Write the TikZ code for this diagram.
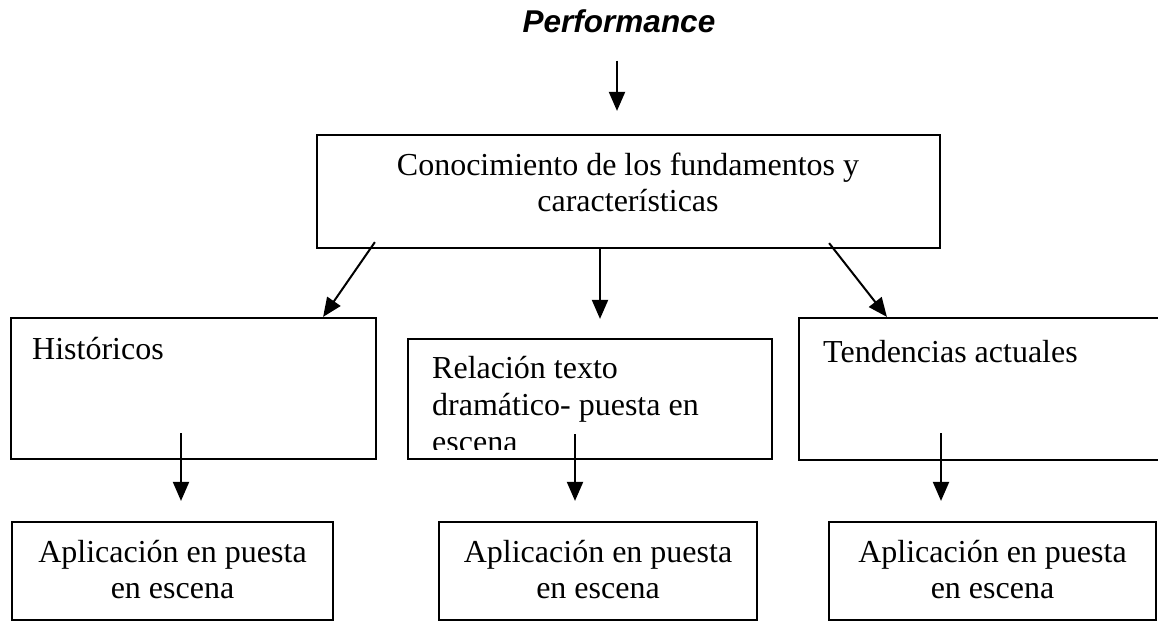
\documentclass[tikz,border=0pt]{standalone}
\usepackage{fontspec}
\setmainfont{Liberation Serif}
\setsansfont{Liberation Sans}
\usetikzlibrary{arrows.meta,calc}
\tikzset{
  boxstyle/.style={draw=black, line width=2.2pt, inner sep=0pt, rectangle},
  txt/.style={inner sep=0pt, font=\fontsize{32}{36}\selectfont, text=black},
  perfstyle/.style={inner sep=0pt, font=\sffamily\bfseries\itshape\fontsize{31.5}{35}\selectfont},
  arr/.style={draw=black, line width=2pt, -{Triangle[length=19pt,width=16pt]}}
}
\begin{document}
\begin{tikzpicture}[x=1pt,y=-1pt]
\useasboundingbox (0,0) rectangle (1158,622);
\fill[white] (0,0) rectangle (1158,622);
\clip (0,0) rectangle (1158,622);

% title
\node[perfstyle, anchor=base] (perf) at (619,32) {Performance};

% top box
\node[boxstyle, minimum width=623pt, minimum height=113pt] (top) at (628.5,191.5) {};
\node[txt, anchor=base] (topl1) at (628,175) {Conocimiento de los fundamentos y};
\node[txt, anchor=base] (topl2) at (628,211) {características};

% middle row
\node[boxstyle, minimum width=365pt, minimum height=141pt] (hist) at (193.5,388.5) {};
\node[txt, anchor=base west] (histt) at (32,359) {Históricos};

\node[boxstyle, minimum width=364pt, minimum height=120pt] (rel) at (590,399) {};
\node[txt, anchor=base west] (rell1) at (432,378) {Relación texto};
\node[txt, anchor=base west] (rell2) at (432,415) {dramático- puesta en};
\begin{scope}
  \clip (408,339) rectangle (772,449);
  \node[txt, anchor=base west] (rell3) at (432,452) {escena};
\end{scope}

\node[boxstyle, minimum width=371pt, minimum height=142pt] (tend) at (984.5,389) {};
\node[txt, anchor=base west] (tendt) at (823,362) {Tendencias actuales};

% bottom row
\node[boxstyle, minimum width=321pt, minimum height=98pt] (a1) at (172.5,571) {};
\node[txt, anchor=base] (a1l1) at (172.5,562) {Aplicación en puesta};
\node[txt, anchor=base] (a1l2) at (172.5,598) {en escena};

\node[boxstyle, minimum width=318pt, minimum height=98pt] (a2) at (598,571) {};
\node[txt, anchor=base] (a2l1) at (598,562) {Aplicación en puesta};
\node[txt, anchor=base] (a2l2) at (598,598) {en escena};

\node[boxstyle, minimum width=327pt, minimum height=98pt] (a3) at (992.5,571) {};
\node[txt, anchor=base] (a3l1) at (992.5,562) {Aplicación en puesta};
\node[txt, anchor=base] (a3l2) at (992.5,598) {en escena};

% connectors
\draw[arr] ($(perf.south)+(-2,28)$) -- ($(top.north)+(-11.5,-23)$);
\draw[arr] ($(top.south west)+(59,-7)$) -- ($(hist.north east)+(-54,0)$);
\draw[arr] ($(top.south)+(-28.5,0)$) -- ($(rel.north)+(10,-19)$);
\draw[arr] ($(top.south east)+(-112,-6)$) -- ($(tend.north west)+(89,0)$);
\draw[arr] ($(hist.south)+(-12.5,-27)$) -- ($(a1.north)+(8.5,-20)$);
\draw[arr] ($(rel.south)+(-15,-26)$) -- ($(a2.north)+(-23,-20)$);
\draw[arr] ($(tend.south)+(-43.5,-28)$) -- ($(a3.north)+(-51.5,-20)$);
\end{tikzpicture}
\end{document}
